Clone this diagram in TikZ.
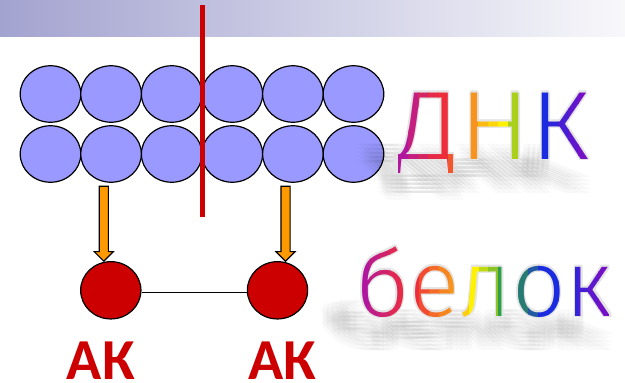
\documentclass[tikz,border=0pt]{standalone}
\usepackage{fontspec}
\usetikzlibrary{shapes.geometric,shapes.arrows,calc}
\newfontfamily\akfont{Carlito}
\IfFontExistsTF{Fira Sans Light}
  {\newfontfamily\wordfont{Fira Sans Light}}
  {\newfontfamily\wordfont{Carlito}}
\definecolor{bandleft}{HTML}{A3A3D0}
\definecolor{bandright}{HTML}{F8F8FB}
\definecolor{basefill}{HTML}{9999FF}
\definecolor{acidred}{HTML}{CC0000}
\definecolor{arroworange}{HTML}{FF9900}
\definecolor{glowgrey}{HTML}{E4E4E4}
\definecolor{rbMag}{HTML}{B0179E}
\definecolor{rbRed}{HTML}{EE2D3A}
\definecolor{rbOrg}{HTML}{F7941D}
\definecolor{rbYel}{HTML}{FFF200}
\definecolor{rbGrn}{HTML}{2E9E47}
\definecolor{rbBlu}{HTML}{1A2BE0}
\definecolor{rbPur}{HTML}{7410C6}
\tikzset{
  dnabase/.style={ellipse, draw, line width=1.2pt, fill=basefill,
    minimum width=60.6pt, minimum height=56.5pt, inner sep=0pt},
  aminoacid/.style={dnabase, fill=acidred, minimum width=60.3pt, minimum height=57.3pt},
  blockarrow/.style={single arrow, draw, line width=1.1pt, fill=arroworange,
    minimum height=75pt, inner xsep=0pt, inner ysep=4pt,
    single arrow head extend=5pt, anchor=tip, rotate=-90},
  cutline/.style={line width=5pt, acidred},
  aklabel/.style={font=\akfont\bfseries\fontsize{58}{60}\selectfont, text=acidred,
    inner sep=0pt, anchor=base},
  word/.style={font=\wordfont\fontsize{97}{100}\selectfont, inner sep=0pt, anchor=base west, xscale=1.09},
  smallword/.style={font=\wordfont\fontsize{94}{100}\selectfont, inner sep=0pt, anchor=base west},
  shadowtext/.style={text=black, opacity=0.018, xslant=-1.1, yscale=0.5},
}
\begin{document}
\begin{tikzpicture}[x=1pt, y=-1pt]
  \useasboundingbox (0,0) rectangle (625,383);
  \shade[left color=bandleft, right color=bandright] (0,0) rectangle (625,36.7);

  % DNA bases
  \path
    (50.5,94) node[dnabase] (a1){}
    (111.1,94) node[dnabase] (a2){}
    (171.7,94) node[dnabase] (a3){}
    (232.3,94) node[dnabase] (a4){}
    (292.9,94) node[dnabase] (a5){}
    (353.5,94) node[dnabase] (a6){}
    (50.5,154) node[dnabase] (b1){}
    (111.1,154) node[dnabase] (b2){}
    (171.7,154) node[dnabase] (b3){}
    (232.3,154) node[dnabase] (b4){}
    (292.9,154) node[dnabase] (b5){}
    (353.5,154) node[dnabase] (b6){};

  % cut
  \coordinate (cuttop) at (202,5);
  \coordinate (cutbot) at (202,216.7);
  \draw[cutline] (cuttop) -- (cutbot);

  % amino acids
  \path
    (110.8,290.3) node[aminoacid] (ak1){}
    (277.5,290.3) node[aminoacid] (ak2){};
  \draw[line width=1.2pt] ([yshift=-2pt]ak1.east) -- ([yshift=-2pt]ak2.west);
  \node[blockarrow] (arr1) at (103.8,262) {};
  \node[blockarrow] (arr2) at (285.5,262) {};
  \node[aklabel] (lab1) at (100.8,379) {АК};
  \node[aklabel] (lab2) at (282.5,379) {АК};

  % words
  \coordinate (dnkpos) at (396,159);
  \coordinate (belokpos) at (356,316);
  \foreach \dx in {-10,-5,0,5,10}
    \foreach \dy in {-8,-4,0,4,8} {
      \node[word, shadowtext] (dnkshadow) at ($(dnkpos)+(\dx-6,\dy+26)$) {ДНК};
      \node[smallword, shadowtext] (belokshadow) at ($(belokpos)+(\dx-6,\dy+26)$) {белок};
    }
  \foreach \dx/\dy in {1.6/0,-1.6/0,0/1.6,0/-1.6,1.1/1.1,-1.1/1.1,1.1/-1.1,-1.1/-1.1} {
    \node[word, text=glowgrey] (dnkglow) at ($(dnkpos)+(\dx,\dy)$) {ДНК};
    \node[smallword, text=glowgrey] (belokglow) at ($(belokpos)+(\dx,\dy)$) {белок};
  }
  \foreach \col [count=\i from 0] in {rbMag, rbMag!70!rbRed, rbMag!40!rbRed, rbRed!85!rbMag, rbRed,
      rbRed!60!rbOrg, rbRed!30!rbOrg, rbOrg, rbOrg!60!rbYel, rbOrg!30!rbYel, rbYel,
      rbYel!60!rbGrn, rbYel!30!rbGrn, rbGrn, rbBlu, rbBlu!75!rbPur, rbBlu!50!rbPur,
      rbBlu!25!rbPur, rbPur} {
    \begin{scope}
      \clip (398+\i*10,60) rectangle ++(10.4,130);
      \node[word, text=\col] (dnk\i) at (dnkpos) {ДНК};
    \end{scope}
  }
  \foreach \col [count=\i from 0] in {rbMag, rbMag!75!rbRed, rbMag!50!rbRed, rbMag!25!rbRed, rbRed!90!rbMag,
      rbRed, rbRed!70!rbOrg, rbRed!40!rbOrg, rbOrg!85!rbRed, rbOrg,
      rbOrg!40!rbYel, rbYel, rbYel!70!rbGrn, rbYel!45!rbGrn,
      rbGrn, rbGrn, rbGrn!70!rbBlu, rbGrn!40!rbBlu, rbBlu, rbBlu,
      rbBlu, rbBlu!75!rbPur, rbBlu!50!rbPur, rbBlu!25!rbPur, rbPur} {
    \begin{scope}
      \clip (360+\i*9.92,220) rectangle ++(10.3,130);
      \node[smallword, text=\col] (belok\i) at (belokpos) {белок};
    \end{scope}
  }
\end{tikzpicture}
\end{document}
